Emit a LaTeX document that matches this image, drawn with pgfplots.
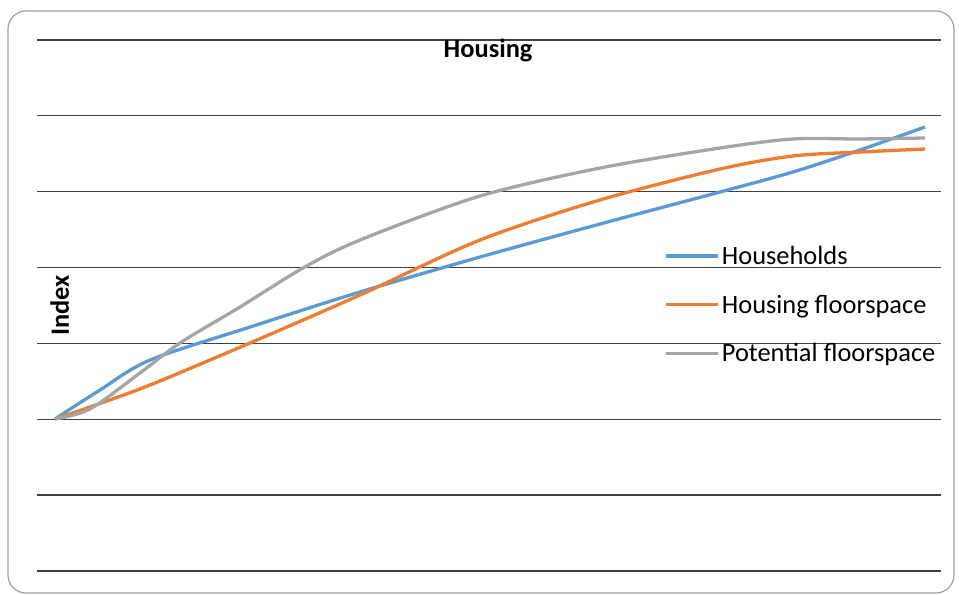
\documentclass[border=0pt]{standalone}
\usepackage{pgfplots}
\pgfplotsset{compat=1.18}
\usepackage{fontspec}
\setmainfont{Carlito}
\definecolor{cblue}{HTML}{5B9BD5}
\definecolor{corange}{HTML}{ED7D31}
\definecolor{cgray}{HTML}{A5A5A5}
\definecolor{cgrid}{HTML}{404040}
\definecolor{cframe}{HTML}{A0A0A0}
\begin{document}
\begin{tikzpicture}[x=1bp,y=1bp]
\path[use as bounding box] (0,0) rectangle (959,595);
\draw[cframe, line width=1.2bp, rounded corners=18bp] (8,2) rectangle (954,584);
\begin{axis}[
  at={(37bp,24bp)}, anchor=south west,
  scale only axis, width=904bp, height=531bp,
  xmin=2010.586, xmax=2031.368,
  ymin=80, ymax=150,
  ytick={80,90,...,150}, yticklabels={},
  xtick=\empty,
  ymajorgrids,
  grid style={cgrid, line width=1.3bp},
  axis line style={draw=none},
  major tick style={draw=none},
  title={\bfseries Housing},
  title style={font=\fontsize{26.5}{31}\selectfont, at={(axis description cs:0.499,0.955)}, anchor=base},
  ylabel={\bfseries Index},
  ylabel style={font=\fontsize{26.5}{31}\selectfont, at={(axis description cs:0.025,0.5)}, anchor=center},
  legend style={draw=none, fill=none, font=\fontsize{26.5}{31}\selectfont,
    at={(axis description cs:0.694,0.616)}, anchor=north west,
    inner sep=0pt, row sep=25bp, nodes={inner sep=2bp}},
  legend cell align=left,
  legend image code/.code={\draw[#1] (0bp,0bp) -- (52bp,0bp);},
  every axis plot/.append style={line width=3.3bp, smooth, tension=0.5},
]
\addplot[cblue] coordinates {
(2011,100.04) (2012.034,103.86) (2013.184,107.81) (2015.483,112.16) (2018.011,116.78)
(2020.770,121.39) (2023.529,125.74) (2026.287,129.96) (2027.966,132.60) (2029.506,135.50)
(2031,138.53)};
\addlegendentry{Households}
\addplot[corange] coordinates {
(2011,100.04) (2011.805,101.62) (2013.184,104.52) (2015.483,110.06) (2018.011,116.38)
(2020.770,123.63) (2023.529,128.91) (2026.287,132.99) (2027.966,134.71) (2029.506,135.23)
(2031,135.63)};
\addlegendentry{Housing floorspace}
\addplot[cgray] coordinates {
(2011,100.04) (2011.805,101.36) (2012.954,106.10) (2013.874,110.06) (2015.253,114.80)
(2016.701,119.94) (2018.011,123.63) (2020.770,129.43) (2023.529,133.12) (2026.287,135.76)
(2027.966,136.95) (2029.506,136.95) (2031,137.08)};
\addlegendentry{Potential floorspace}
\end{axis}
\end{tikzpicture}
\end{document}
